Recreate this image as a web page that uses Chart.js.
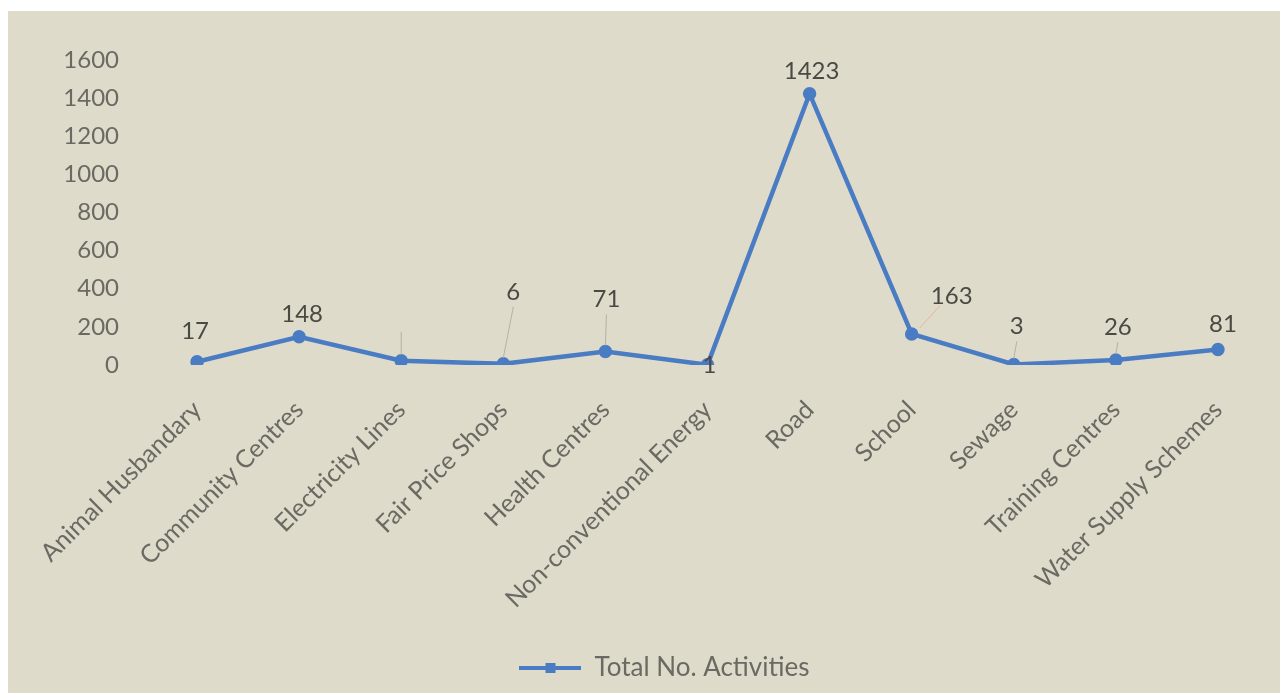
<!DOCTYPE html>
<html>
<head>
<meta charset="utf-8">
<script src="https://cdn.jsdelivr.net/npm/chart.js@4.4.1/dist/chart.umd.min.js"></script>
<style>
    html, body { margin: 0; padding: 0; background: #ffffff; }
    .chart-wrap {
        position: absolute;
        left: 8px;
        top: 11px;
        width: 1272px;
        height: 682px;
        background: #dfdbca;
    }
</style>
</head>
<body>
<div class="chart-wrap"><canvas id="chart"></canvas></div>
<script>
const categories = [
    'Animal Husbandary', 'Community Centres', 'Electricity Lines', 'Fair Price Shops',
    'Health Centres', 'Non-conventional Energy', 'Road', 'School', 'Sewage',
    'Training Centres', 'Water Supply Schemes'
];
const activities = [17, 148, 22, 6, 71, 1, 1423, 163, 3, 26, 81];
const shownLabels = ['17', '148', '', '6', '71', '1', '1423', '163', '3', '26', '81'];
const yTicks = [0, 200, 400, 600, 800, 1000, 1200, 1400, 1600];

const LINE_COLOR = '#4a7cc4';
const FONT = 'Lato, "Open Sans", sans-serif';
const TEXT_GREY = '#6a6962';

// where each data label sits relative to its point (excel moved some of them by hand)
const labelPlacement = [
    {dx: -2, dy: -30}, {dx: 3, dy: -23}, {dx: 0, dy: -44}, {dx: 10, dy: -72},
    {dx: 1, dy: -52}, {dx: 2, dy: 0}, {dx: 2, dy: -22}, {dx: 40, dy: -38},
    {dx: 3, dy: -38}, {dx: 2, dy: -33}, {dx: 5, dy: -25}
];

const valueLabels = {
    id: 'valueLabels',
    afterDatasetsDraw(chart) {
        const ctx = chart.ctx;
        const meta = chart.getDatasetMeta(0);
        ctx.save();
        ctx.font = '24px ' + FONT;
        ctx.textAlign = 'center';
        ctx.textBaseline = 'middle';
        meta.data.forEach((pt, i) => {
            const p = labelPlacement[i];
            const lx = pt.x + p.dx;
            const ly = pt.y + p.dy;
            if (Math.abs(p.dy) > 30) {
                // leader line
                ctx.strokeStyle = i === 7 ? '#e8b49a' : '#b5b1a4';
                ctx.lineWidth = 1;
                ctx.beginPath();
                ctx.moveTo(pt.x + (i === 7 ? 8 : 0), pt.y - 6);
                ctx.lineTo(lx - (i === 7 ? 12 : 0), ly + (i === 7 ? 10 : 15));
                ctx.stroke();
            }
            ctx.fillStyle = '#4a4a44';
            ctx.fillText(shownLabels[i], lx, ly);
        });
        ctx.restore();
    }
};

function legendIcon() {
    const c = document.createElement('canvas');
    c.width = 62;
    c.height = 12;
    const g = c.getContext('2d');
    g.fillStyle = LINE_COLOR;
    g.fillRect(0, 4, 62, 4);
    g.fillRect(26, 1, 10, 10);
    return c;
}

new Chart(document.getElementById('chart'), {
    type: 'line',
    data: {
        labels: categories,
        datasets: [{
            label: 'Total No. Activities',
            data: activities,
            borderColor: LINE_COLOR,
            backgroundColor: LINE_COLOR,
            borderWidth: 4.5,
            pointRadius: 4.5,
            pointHoverRadius: 4.5,
            tension: 0,
        }]
    },
    options: {
        responsive: true,
        maintainAspectRatio: false,
        animation: false,
        layout: {
            padding: {left: 52, right: 11, top: 49, bottom: 2}
        },
        scales: {
            x: {
                offset: true,
                grid: {display: false, drawTicks: false},
                border: {display: false},
                ticks: {
                    color: TEXT_GREY,
                    font: {family: FONT, size: 25},
                    minRotation: 45,
                    maxRotation: 45,
                    padding: 30,
                    autoSkip: false,
                },
                afterFit(scale) {
                    scale.height = 280;
                }
            },
            y: {
                min: 0,
                max: 1600,
                grid: {display: false, drawTicks: false},
                border: {display: false},
                afterBuildTicks(scale) {
                    scale.ticks = yTicks.map(v => ({value: v}));
                },
                ticks: {
                    color: TEXT_GREY,
                    font: {family: FONT, size: 24},
                    padding: 27,
                    callback: v => String(v),
                },
                afterFit(scale) {
                    scale.width = 86;
                }
            }
        },
        plugins: {
            tooltip: {enabled: false},
            legend: {
                position: 'bottom',
                labels: {
                    color: TEXT_GREY,
                    font: {family: FONT, size: 26},
                    usePointStyle: true,
                    pointStyleWidth: 62,
                    boxHeight: 12,
                    generateLabels(chart) {
                        return chart.data.datasets.map((ds, i) => ({
                            text: ds.label,
                            pointStyle: legendIcon(),
                            fontColor: TEXT_GREY,
                            datasetIndex: i,
                            hidden: false,
                            lineWidth: 0,
                        }));
                    }
                }
            }
        }
    },
    plugins: [valueLabels]
});
</script>
</body>
</html>
